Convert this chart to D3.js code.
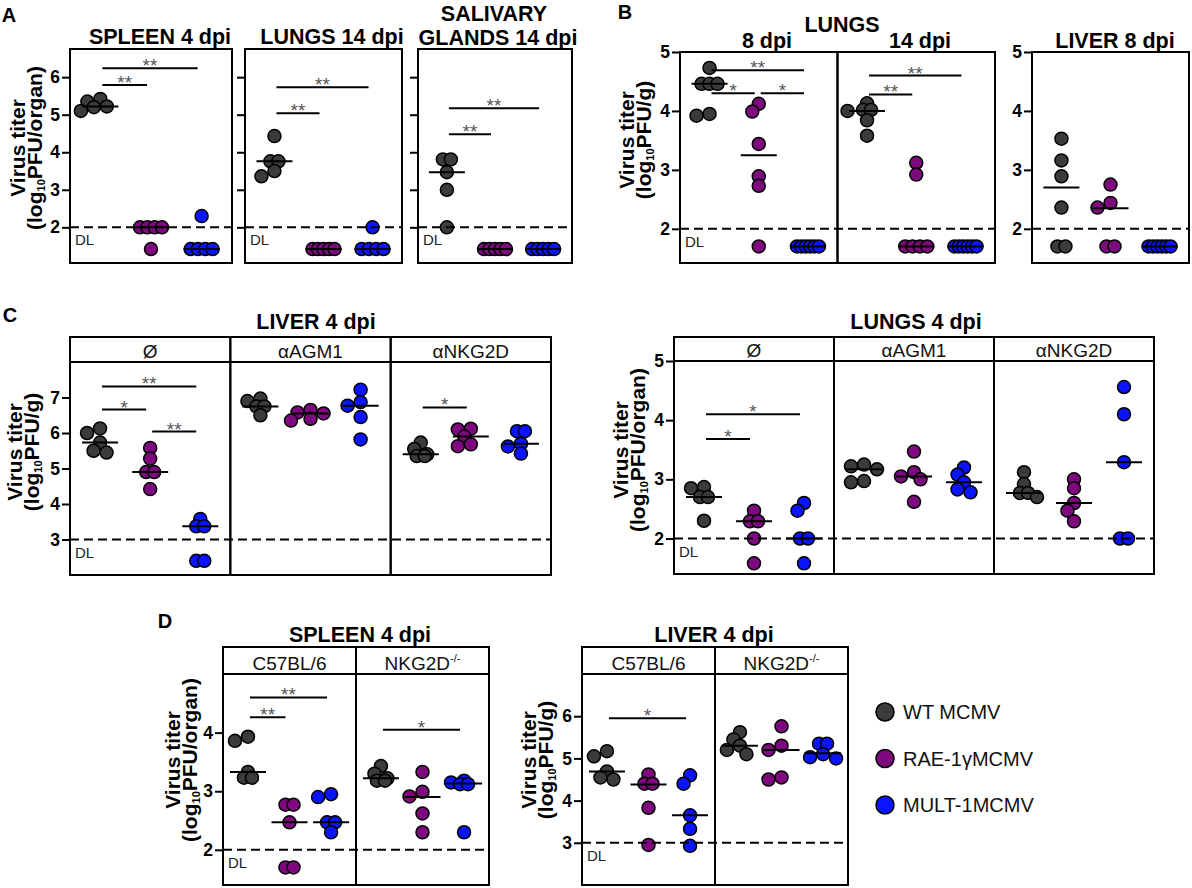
<!DOCTYPE html>
<html>
<head>
<meta charset="utf-8">
<script src="https://cdn.jsdelivr.net/npm/d3@7"></script>
<style>
  body { margin: 0; background: #fff; }
  svg text { font-family: "Liberation Sans", Arial, sans-serif; }
</style>
</head>
<body>
<svg id="fig" width="1192" height="888"></svg>
<script>
// virus groups, in plotting order
const groups = ["WT MCMV", "RAE-1γMCMV", "MULT-1MCMV"];
const groupFill = ["#3b3b3b", "#7e087e", "#0a14ff"];

// A: spleen 4 dpi, lungs 14 dpi, salivary glands 14 dpi (log10 PFU/organ)
const aTicks = [2, 3, 4, 5, 6];
const aSpleen = [[5.42, 5.35, 5.22, 5.2, 5.1], [2, 2, 2, 2, 1.42], [2.3, 1.42, 1.42, 1.42, 1.42]];
const aSpleenMed = [5.22, 2, 1.42];
const aSpleenSig = [[0, 1, "**", 5.79], [0, 2, "**", 6.24]];
const aLungs = [[4.43, 3.76, 3.76, 3.5, 3.36], [1.42, 1.42, 1.42, 1.42, 1.42], [2, 1.42, 1.42, 1.42, 1.42]];
const aLungsMed = [3.76, 1.42, 1.42];
const aLungsSig = [[0, 1, "**", 5.04], [0, 2, "**", 5.73]];
const aSaliv = [[3.81, 3.81, 3.47, 3, 2], [1.42, 1.42, 1.42, 1.42, 1.42], [1.42, 1.42, 1.42, 1.42, 1.42]];
const aSalivMed = [3.47, 1.42, 1.42];
const aSalivSig = [[0, 1, "**", 4.48], [0, 2, "**", 5.17]];

// B: lungs 8 / 14 dpi, liver 8 dpi (log10 PFU/g)
const bTicks = [2, 3, 4, 5];
const bLungs8 = [[4.73, 4.46, 4.46, 4.46, 3.95, 3.92], [4.12, 3.99, 3.44, 2.89, 2.73, 1.7], [1.7, 1.7, 1.7, 1.7, 1.7, 1.7]];
const bLungs8Med = [4.46, 3.25, 1.7];
const bLungs8Sig = [[0, 2, "**", 4.69], [0, 1, "*", 4.3], [1, 2, "*", 4.3]];
const bLungs14 = [[4.13, 4.02, 4.02, 4.0, 3.84, 3.58], [3.12, 2.92, 1.7, 1.7, 1.7, 1.7], [1.7, 1.7, 1.7, 1.7, 1.7, 1.7]];
const bLungs14Med = [4.0, 1.7, 1.7];
const bLungs14Sig = [[0, 1, "**", 4.28], [0, 2, "**", 4.6]];
const bLiver8 = [[3.53, 3.16, 2.89, 2.36, 1.7, 1.7], [2.75, 2.44, 2.36, 1.7, 1.7], [1.7, 1.7, 1.7, 1.7, 1.7, 1.7]];
const bLiver8Med = [2.7, 2.35, 1.7];

// C: depletion, 4 dpi
const cStrips = ["Ø", "αAGM1", "αNKG2D"];
const cLiverTicks = [3, 4, 5, 6, 7];
const cLiver = [
  [[6.13, 6.0, 5.73, 5.5, 5.45], [5.58, 5.28, 4.9, 4.9, 4.42], [3.58, 3.37, 3.37, 2.4, 2.4]],
  [[6.97, 6.9, 6.75, 6.75, 6.5], [6.65, 6.58, 6.55, 6.4, 6.35], [7.22, 6.87, 6.77, 6.45, 5.82]],
  [[5.73, 5.55, 5.4, 5.35, 5.35], [6.12, 6.1, 5.9, 5.68, 5.63], [6.05, 6.05, 5.7, 5.62, 5.42]]
];
const cLiverMed = [[5.73, 4.9, 3.37], [6.75, 6.55, 6.77], [5.4, 5.9, 5.7]];
const cLiverSig = [[[0, 2, "**", 7.31], [0, 1, "*", 6.66], [1, 2, "**", 6.04]], [], [[0, 1, "*", 6.72]]];
const cLungsTicks = [2, 3, 4, 5];
const cLungs = [
  [[2.87, 2.85, 2.7, 2.7, 2.3], [2.47, 2.29, 2.29, 2.0, 1.58], [2.6, 2.47, 2.0, 2.0, 1.58]],
  [[3.25, 3.22, 3.17, 2.97, 2.95], [3.47, 3.12, 3.05, 3.0, 2.62], [3.2, 3.08, 2.95, 2.83, 2.78]],
  [[3.12, 2.92, 2.77, 2.77, 2.7], [3.0, 2.85, 2.6, 2.47, 2.29], [4.56, 4.1, 3.29, 2.0, 2.0]]
];
const cLungsMed = [[2.7, 2.29, 2.0], [3.17, 3.05, 2.95], [2.77, 2.6, 3.29]];
const cLungsSig = [[[0, 2, "*", 4.1], [0, 1, "*", 3.68]], [], []];

// D: C57BL/6 vs NKG2D-/- mice, 4 dpi
const dStrips = ["C57BL/6", "NKG2D-/-"];
const dSpleenTicks = [2, 3, 4];
const dSpleen = [
  [[3.93, 3.86, 3.33, 3.23, 3.23], [2.77, 2.77, 2.47, 1.7, 1.7], [2.95, 2.9, 2.47, 2.47, 2.3]],
  [[3.43, 3.3, 3.22, 3.18, 3.18], [3.33, 2.99, 2.91, 2.62, 2.3], [3.18, 3.15, 3.12, 3.12, 2.3]]
];
const dSpleenMed = [[3.33, 2.47, 2.47], [3.22, 2.9, 3.13]];
const dSpleenSig = [[[0, 2, "**", 4.6], [0, 1, "**", 4.26]], [[0, 2, "*", 4.05]]];
const dLiverTicks = [3, 4, 5, 6];
const dLiver = [
  [[5.17, 5.05, 4.69, 4.55, 4.5], [4.62, 4.4, 4.4, 3.83, 2.95], [4.6, 4.4, 3.65, 3.33, 2.93]],
  [[5.62, 5.45, 5.3, 5.2, 5.1], [5.76, 5.3, 5.2, 4.55, 4.5], [5.35, 5.35, 5.1, 5.03, 5.0]]
];
const dLiverMed = [[4.69, 4.38, 3.65], [5.3, 5.2, 5.12]];
const dLiverSig = [[[0, 2, "*", 5.95]], []];

const svg = d3.select("#fig");
svg.append("rect").attr("width", 1192).attr("height", 888).attr("fill", "#fff");

// simple beeswarm: dodge sideways until the circle is free
function swarm(vals, y, cx) {
  const placed = [];
  vals.forEach(function (v) {
    const py = y(v);
    let off = 0;
    for (let k = 0; k < 14; k++) {
      const o = (k % 2 ? -1 : 1) * Math.ceil(k / 2) * 6.5;
      if (placed.every((p) => Math.hypot(p.x - cx - o, p.y - py) >= 8.5)) {
        off = o;
        break;
      }
    }
    placed.push({ v: v, x: cx + off, y: py });
  });
  // exact ties sit in a centred row
  d3.group(placed, (p) => p.v).forEach(function (row) {
    if (row.length < 2) return;
    const sp = Math.min(8, 22 / (row.length - 1));
    row.forEach((p, i) => (p.x = cx + (i - (row.length - 1) / 2) * sp));
  });
  return placed;
}

function stripLabel(g, x, y, name) {
  const t = g.append("text").attr("x", x).attr("y", y).attr("text-anchor", "middle")
    .style("font-size", "19px").attr("fill", "#111");
  if (name.endsWith("-/-")) {
    t.append("tspan").text(name.slice(0, -3));
    t.append("tspan").attr("dy", -8).style("font-size", "11px").text("-/-");
  } else {
    t.text(name);
  }
}

function drawChart(opt) {
  const y = d3.scaleLinear().domain(opt.domain).range([opt.bottom, opt.top]);
  const xs = d3.scaleBand().domain(d3.range(opt.panels.length)).range([opt.left, opt.right]);
  const g = svg.append("g");

  // y axis
  const ax = g.append("g")
    .attr("transform", "translate(" + opt.left + ",0)")
    .call(d3.axisLeft(y).tickValues(opt.ticks).tickSize(8).tickPadding(2)
      .tickFormat(opt.labels ? d3.format("d") : ""));
  ax.select(".domain").remove();
  ax.selectAll("line").attr("stroke", "#000").attr("stroke-width", 2);
  ax.selectAll("text").attr("fill", "#000").attr("font-family", null)
    .style("font-size", "17.5px").style("font-weight", "bold");

  opt.panels.forEach(function (p, i) {
    const x0 = xs(i), w = xs.bandwidth();
    const x = d3.scalePoint().domain(d3.range(groups.length)).range([x0, x0 + w]).padding(0.6);

    // points
    p.vals.forEach(function (vals, j) {
      g.append("g").selectAll("circle")
        .data(swarm(vals, y, x(j)))
        .enter()
        .append("circle")
        .attr("cx", (d) => d.x)
        .attr("cy", (d) => d.y)
        .attr("r", 6.5)
        .attr("fill", groupFill[j])
        .attr("stroke", "#000")
        .attr("stroke-width", 1.5);
    });

    // median lines
    g.append("g").selectAll("line")
      .data(p.med)
      .enter()
      .append("line")
      .attr("x1", (d, j) => x(j) - 18)
      .attr("x2", (d, j) => x(j) + 18)
      .attr("y1", (d) => y(d))
      .attr("y2", (d) => y(d))
      .attr("stroke", "#000")
      .attr("stroke-width", 2);

    // significance bars
    (p.sig || []).forEach(function (s) {
      const x1 = x(s[0]) + 2, x2 = x(s[1]) - 4, yy = y(s[3]);
      g.append("line").attr("x1", x1).attr("x2", x2).attr("y1", yy).attr("y2", yy)
        .attr("stroke", "#000").attr("stroke-width", 2);
      g.append("text").attr("x", (x1 + x2) / 2).attr("y", yy + 4)
        .attr("text-anchor", "middle").style("font-size", "19px")
        .attr("fill", "#555").text(s[2]);
    });

    if (p.dl) {
      g.append("text").attr("x", x0 + 5).attr("y", y(opt.dl) + 18)
        .style("font-size", "15px").attr("fill", "#222").text("DL");
    }

    // strip header
    if (opt.stripTop != null) {
      g.append("rect").attr("x", x0).attr("y", opt.stripTop).attr("width", w)
        .attr("height", opt.top - opt.stripTop).attr("fill", "none")
        .attr("stroke", "#000").attr("stroke-width", 2);
      stripLabel(g, x0 + w / 2, opt.top - 4, p.name);
    }
  });

  // detection limit
  g.append("line").attr("x1", opt.left).attr("x2", opt.right)
    .attr("y1", y(opt.dl)).attr("y2", y(opt.dl))
    .attr("stroke", "#000").attr("stroke-width", 2).attr("stroke-dasharray", "9,5");

  // panel frames
  opt.panels.forEach(function (p, i) {
    g.append("rect").attr("x", xs(i)).attr("y", opt.top)
      .attr("width", xs.bandwidth()).attr("height", opt.bottom - opt.top)
      .attr("fill", "none").attr("stroke", "#000").attr("stroke-width", 2);
  });
}

function title(x, y, txt, size) {
  svg.append("text").attr("x", x).attr("y", y).attr("text-anchor", "middle")
    .style("font-size", (size || 21.5) + "px").style("font-weight", "bold").text(txt);
}

function yTitle(x, cy, unit) {
  svg.append("text").attr("transform", "translate(" + x + "," + cy + ") rotate(-90)")
    .attr("text-anchor", "middle").style("font-size", "21px").style("font-weight", "bold")
    .text("Virus titer");
  const t = svg.append("text").attr("transform", "translate(" + (x + 17) + "," + cy + ") rotate(-90)")
    .attr("text-anchor", "middle").style("font-size", "21px").style("font-weight", "bold");
  t.append("tspan").text("(log");
  t.append("tspan").attr("dy", 3).style("font-size", "11px").text("10");
  t.append("tspan").attr("dy", -3).text("PFU/" + unit + ")");
}

// ---- A ----
title(9, 22, "A", 20);
drawChart({ left: 70, right: 232, top: 49, bottom: 263, domain: [1.05, 6.75], ticks: aTicks, labels: true, dl: 2,
  panels: [{ vals: aSpleen, med: aSpleenMed, sig: aSpleenSig, dl: true }] });
drawChart({ left: 245, right: 402, top: 49, bottom: 263, domain: [1.05, 6.75], ticks: aTicks, labels: false, dl: 2,
  panels: [{ vals: aLungs, med: aLungsMed, sig: aLungsSig, dl: true }] });
drawChart({ left: 418, right: 572, top: 49, bottom: 263, domain: [1.05, 6.75], ticks: aTicks, labels: false, dl: 2,
  panels: [{ vals: aSaliv, med: aSalivMed, sig: aSalivSig, dl: true }] });
title(160, 44, "SPLEEN 4 dpi");
title(332, 44, "LUNGS 14 dpi");
title(494, 21, "SALIVARY");
title(498, 45, "GLANDS 14 dpi");
yTitle(25, 148, "organ");

// ---- B ----
title(625, 19, "B", 20);
drawChart({ left: 680, right: 995, top: 52, bottom: 263, domain: [1.42, 5], ticks: bTicks, labels: true, dl: 2,
  panels: [
    { vals: bLungs8, med: bLungs8Med, sig: bLungs8Sig, dl: true },
    { vals: bLungs14, med: bLungs14Med, sig: bLungs14Sig }
  ] });
drawChart({ left: 1032, right: 1189, top: 52, bottom: 263, domain: [1.42, 5], ticks: bTicks, labels: true, dl: 2,
  panels: [{ vals: bLiver8, med: bLiver8Med }] });
title(842, 32, "LUNGS");
title(767, 48, "8 dpi");
title(920, 48, "14 dpi");
title(1115, 48, "LIVER 8 dpi");
yTitle(634, 140, "g");

// ---- C ----
title(10, 322, "C", 20);
drawChart({ left: 70, right: 551, stripTop: 337, top: 362, bottom: 575, domain: [2, 8], ticks: cLiverTicks, labels: true, dl: 3,
  panels: cStrips.map((s, i) => ({ name: s, vals: cLiver[i], med: cLiverMed[i], sig: cLiverSig[i], dl: i === 0 })) });
drawChart({ left: 674, right: 1154, stripTop: 337, top: 361, bottom: 574, domain: [1.4, 5], ticks: cLungsTicks, labels: true, dl: 2,
  panels: cStrips.map((s, i) => ({ name: s, vals: cLungs[i], med: cLungsMed[i], sig: cLungsSig[i], dl: i === 0 })) });
title(316, 329, "LIVER 4 dpi");
title(916, 329, "LUNGS 4 dpi");
yTitle(22, 452, "g");
yTitle(628, 450, "organ");

// ---- D ----
title(165, 628, "D", 20);
drawChart({ left: 223, right: 489, stripTop: 647, top: 674, bottom: 885, domain: [1.4, 5], ticks: dSpleenTicks, labels: true, dl: 2,
  panels: dStrips.map((s, i) => ({ name: s, vals: dSpleen[i], med: dSpleenMed[i], sig: dSpleenSig[i], dl: i === 0 })) });
drawChart({ left: 582, right: 848, stripTop: 647, top: 674, bottom: 885, domain: [2, 7], ticks: dLiverTicks, labels: true, dl: 3,
  panels: dStrips.map((s, i) => ({ name: s, vals: dLiver[i], med: dLiverMed[i], sig: dLiverSig[i], dl: i === 0 })) });
title(360, 642, "SPLEEN 4 dpi");
title(714, 642, "LIVER 4 dpi");
yTitle(180, 760, "organ");
yTitle(536, 760, "g");

// legend
const legend = svg.append("g").selectAll("g")
  .data(groups)
  .enter()
  .append("g")
  .attr("transform", (d, i) => "translate(885," + (712 + i * 46.5) + ")");
legend.append("circle").attr("r", 9).attr("fill", (d, i) => groupFill[i])
  .attr("stroke", "#000").attr("stroke-width", 1.5);
legend.append("text").attr("x", 18).attr("y", 7).style("font-size", "20px")
  .attr("fill", "#111").text((d) => d);
</script>
</body>
</html>
